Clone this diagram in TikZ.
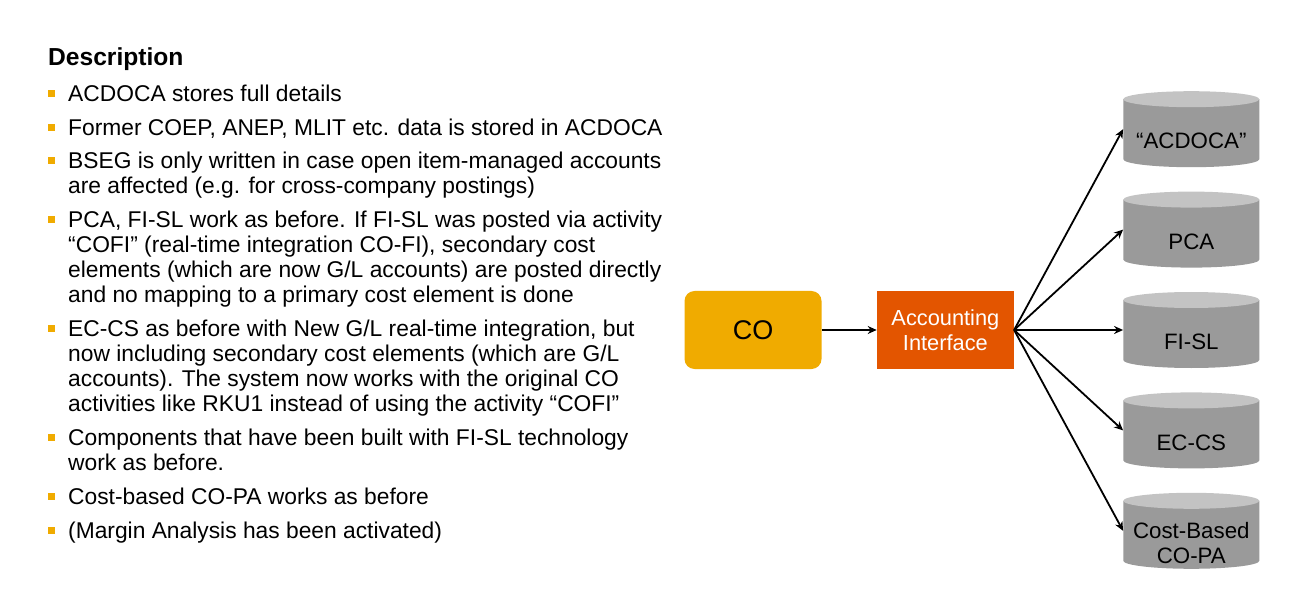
\documentclass[tikz,border=0pt]{standalone}
\usepackage{fontspec}
\setmainfont{Liberation Sans}
\usepackage{xcolor}
\usetikzlibrary{arrows.meta,positioning}
\definecolor{sapgold}{HTML}{F0AB00}
\definecolor{saporange}{HTML}{E35500}
\definecolor{dbbody}{HTML}{9A9A9A}
\definecolor{dbtop}{HTML}{C3C3C3}

\newcommand{\bul}{\strut\makebox[20pt][l]{\raisebox{4.5pt}{\textcolor{sapgold}{\rule{7pt}{7pt}}}}}
\newcommand{\ind}{\strut\hspace*{20pt}}

\begin{document}
\begin{tikzpicture}[x=1pt,y=-1pt,
	item/.style={anchor=north west,inner sep=0pt,align=left,font=\fontsize{22.8}{25}\selectfont},
	box/.style={minimum width=137pt,minimum height=78pt,inner sep=0pt,align=center},
	dbtext/.style={yshift=-12pt,inner sep=0pt,align=center,font=\fontsize{22.3}{25}\selectfont},
	db/.style={minimum width=136pt,minimum height=76pt,inner sep=0pt,label={[dbtext]center:#1},
		path picture={
			\fill[dbbody] ([yshift=-8pt]path picture bounding box.north west)
				-- ([yshift=8pt]path picture bounding box.south west)
				arc[start angle=180,end angle=360,x radius=68pt,y radius=8pt]
				-- ([yshift=-8pt]path picture bounding box.north east) -- cycle;
			\fill[dbtop] ([yshift=-8pt]path picture bounding box.north) ellipse[x radius=68pt,y radius=8pt];
		}},
	link/.style={-{Stealth[length=9pt,width=8pt]},line width=1.8pt}]
	\useasboundingbox (0,0) rectangle (1306,612);
	
	% description text
	\node[anchor=base west,inner sep=0pt,font=\bfseries\fontsize{24.6}{28}\selectfont] (title) at (48,65.5) {Description};
	\node[item] (d1) at (48,83.5) {\bul ACDOCA stores full details};
	\node[item,below=8.5pt of d1.south west,anchor=north west] (d2) {\bul Former COEP, ANEP, MLIT etc. data is stored in ACDOCA};
	\node[item,below=8.5pt of d2.south west,anchor=north west] (d3) {\bul BSEG is only written in case open item-managed accounts\\
		\ind are affected (e.g. for cross-company postings)};
	\node[item,below=8.5pt of d3.south west,anchor=north west] (d4) {\bul PCA, FI-SL work as before. If FI-SL was posted via activity\\
		\ind ``COFI'' (real-time integration CO-FI), secondary cost\\
		\ind elements (which are now G/L accounts) are posted directly\\
		\ind and no mapping to a primary cost element is done};
	\node[item,below=8.5pt of d4.south west,anchor=north west] (d5) {\bul EC-CS as before with New G/L real-time integration, but\\
		\ind now including secondary cost elements (which are G/L\\
		\ind accounts). The system now works with the original CO\\
		\ind activities like RKU1 instead of using the activity ``COFI''};
	\node[item,below=8.5pt of d5.south west,anchor=north west] (d6) {\bul Components that have been built with FI-SL technology\\
		\ind work as before.};
	\node[item,below=8.5pt of d6.south west,anchor=north west] (d7) {\bul Cost-based CO-PA works as before};
	\node[item,below=8.5pt of d7.south west,anchor=north west] (d8) {\bul (Margin Analysis has been activated)};
	
	% flow
	\node[box,fill=sapgold,rounded corners=10pt,font=\fontsize{27}{30}\selectfont] (co) at (753,330) {CO};
	\node[box,fill=saporange,text=white,font=\fontsize{21.8}{25}\selectfont,right=55pt of co] (ai) {Accounting\\Interface};
	
	\node[db={FI-SL},right=109pt of ai] (fisl) {};
	\node[db={PCA},above=24pt of fisl] (pca) {};
	\node[db={``ACDOCA''},above=24pt of pca] (acdoca) {};
	\node[db={EC-CS},below=24pt of fisl] (eccs) {};
	\node[db={Cost-Based\\CO-PA},below=24pt of eccs] (copa) {};
	
	\draw[link] (co) -- (ai);
	\foreach \t in {acdoca,pca,fisl,eccs,copa}
		\draw[link] (ai.east) -- (\t.west);
\end{tikzpicture}
\end{document}
